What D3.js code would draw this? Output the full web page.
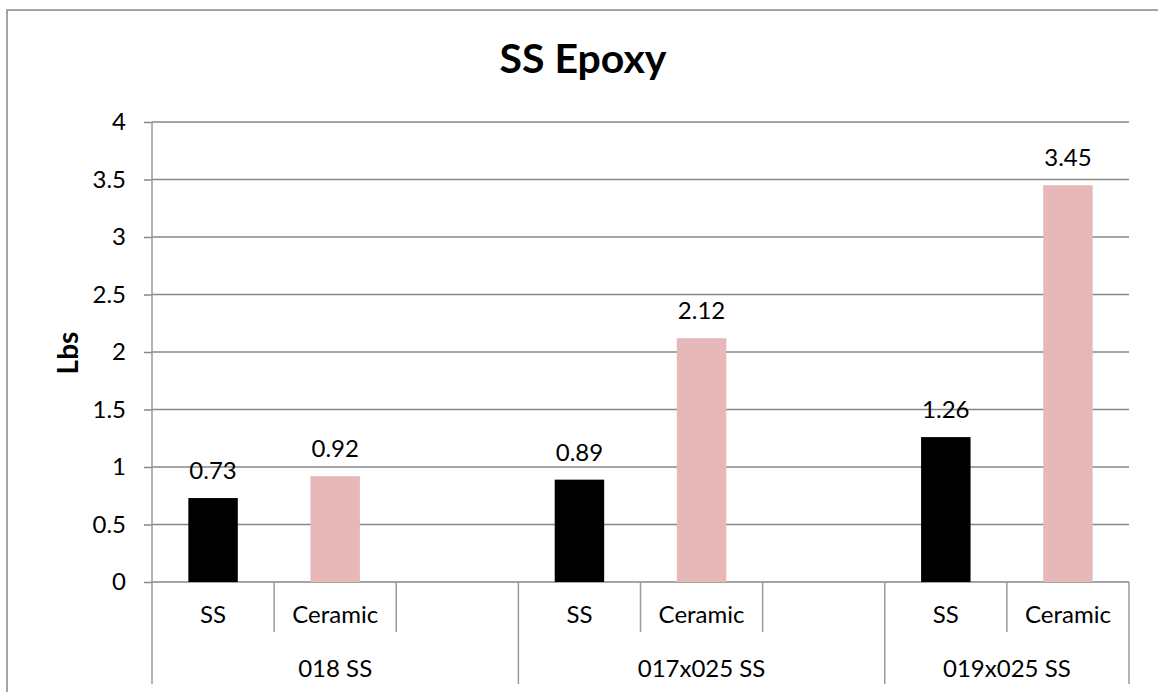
<!DOCTYPE html>
<html>
<head>
<meta charset="utf-8">
<script src="https://cdn.jsdelivr.net/npm/d3@7"></script>
<style>
  html, body { margin: 0; padding: 0; background: #fff; }
  svg { display: block; }
  text { font-family: Lato, "Open Sans", sans-serif; fill: #000; }
</style>
</head>
<body>
<svg id="chart" width="1158" height="692"></svg>
<script>
// ---- data ----
const title = "SS Epoxy";
const yTitle = "Lbs";
const groups = ["018 SS", "017x025 SS", "019x025 SS"];
const slotsPerGroup = [3, 3, 2];
const subLabels = ["SS", "Ceramic", ""];
const ssValues = [0.73, 0.89, 1.26];
const ceramicValues = [0.92, 2.12, 3.45];
const yTicks = [0, 0.5, 1, 1.5, 2, 2.5, 3, 3.5, 4];

(function () {
// ---- build slots ----
const slots = [];
groups.forEach((g, gi) => {
  for (let k = 0; k < slotsPerGroup[gi]; k++) {
    const sub = subLabels[k];
    const value = sub === "SS" ? ssValues[gi] : sub === "Ceramic" ? ceramicValues[gi] : null;
    slots.push({ key: gi + "-" + k, group: g, gi, k, sub, value });
  }
});

const svg = d3.select("#chart");
const W = 1158, H = 692;
const pL = 152, pR = 1129, pT = 122, pB = 582;
const fs = "24px";

// outer chart border (cropped: only top and left visible)
svg.append("rect").attr("x", 7).attr("y", 10).attr("width", W + 10).attr("height", H + 10)
  .attr("fill", "none").attr("stroke", "#878787").attr("stroke-width", 1.5);

const x = d3.scaleBand().domain(slots.map(d => d.key)).range([pL, pR]).padding(0);
const y = d3.scaleLinear().domain([0, 4]).range([pB, pT]);

// gridlines + y-axis labels
const yAxis = d3.axisLeft(y).tickValues(yTicks).tickFormat(d => String(d)).tickSize(8).tickPadding(18);
const gy = svg.append("g").attr("transform", `translate(${pL},0)`).call(yAxis);
gy.select(".domain").remove();
gy.selectAll(".tick line").attr("stroke", "#878787").attr("stroke-width", 1.5);
gy.selectAll(".tick text").style("font-size", fs).style("font-family", "Lato, 'Open Sans', sans-serif").attr("fill", "#000");

svg.append("g").selectAll("line").data(yTicks).join("line")
  .attr("x1", pL).attr("x2", pR)
  .attr("y1", d => y(d)).attr("y2", d => y(d))
  .attr("stroke", "#878787").attr("stroke-width", 1.5);

// vertical axis line (extends through the multi-level category area)
svg.append("line").attr("x1", pL).attr("x2", pL).attr("y1", pT).attr("y2", 684)
  .attr("stroke", "#9a9a9a").attr("stroke-width", 1.5);

// bars
const barW = x.bandwidth() * 0.405;
svg.append("g").selectAll("rect").data(slots.filter(d => d.value != null)).join("rect")
  .attr("x", d => x(d.key) + (x.bandwidth() - barW) / 2)
  .attr("width", barW)
  .attr("y", d => y(d.value))
  .attr("height", d => y(0) - y(d.value))
  .attr("fill", d => d.sub === "SS" ? "#000000" : "#E6B9B8");

// value labels
svg.append("g").selectAll("text").data(slots.filter(d => d.value != null)).join("text")
  .attr("x", d => x(d.key) + x.bandwidth() / 2)
  .attr("y", d => y(d.value) - 19)
  .attr("text-anchor", "middle")
  .style("font-size", fs)
  .text(d => d.value.toFixed(2));

// category axis (multi-level)
const boundaries = [];
slots.forEach(d => {
  boundaries.push({ x: x(d.key), long: d.k === 0 });
});
boundaries.push({ x: pR, long: true });
svg.append("g").selectAll("line").data(boundaries.filter(b => b.x !== pL)).join("line")
  .attr("x1", b => b.x).attr("x2", b => b.x)
  .attr("y1", pB).attr("y2", b => b.long ? 684 : 632)
  .attr("stroke", "#9a9a9a").attr("stroke-width", 1.5);

svg.append("g").selectAll("text").data(slots.filter(d => d.sub)).join("text")
  .attr("x", d => x(d.key) + x.bandwidth() / 2)
  .attr("y", 623)
  .attr("text-anchor", "middle")
  .style("font-size", fs)
  .text(d => d.sub);

svg.append("g").selectAll("text").data(groups).join("text")
  .attr("x", (g, gi) => {
    const s = slots.filter(d => d.gi === gi);
    return (x(s[0].key) + x(s[s.length - 1].key) + x.bandwidth()) / 2;
  })
  .attr("y", 677)
  .attr("text-anchor", "middle")
  .style("font-size", fs)
  .text(g => g);

// title
svg.append("text").attr("x", 583).attr("y", 73).attr("text-anchor", "middle")
  .style("font-size", "41px").style("font-weight", "bold").text(title);

// y-axis title
svg.append("text").attr("transform", "translate(78,353) rotate(-90)")
  .attr("text-anchor", "middle").style("font-size", "28px").style("font-weight", "bold")
  .text(yTitle);
})();
</script>
</body>
</html>
